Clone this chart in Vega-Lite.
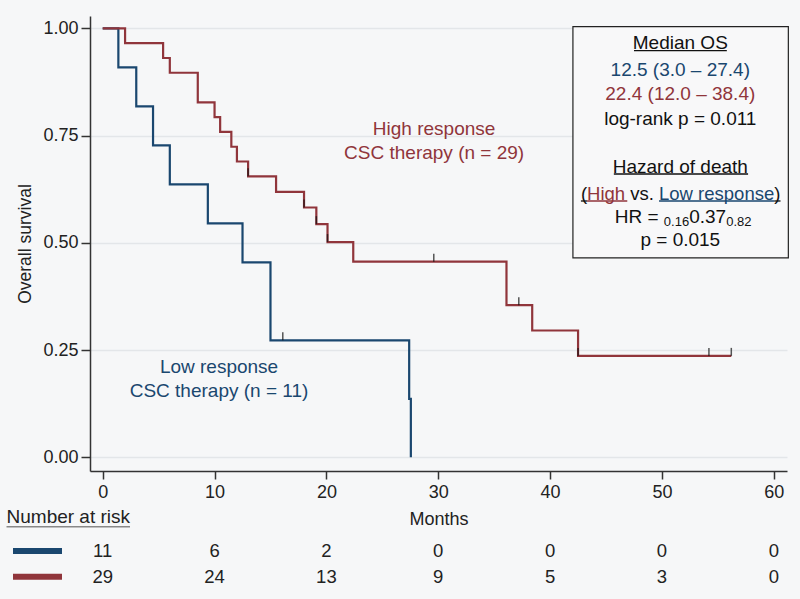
{
  "$schema": "https://vega.github.io/schema/vega-lite/v6.json",
  "width": 697,
  "height": 455,
  "autosize": {"type": "none"},
  "padding": {"left": 90, "top": 16, "right": 13, "bottom": 128},
  "background": "#f6f7f8",
  "config": {
    "font": "Liberation Sans",
    "view": {"stroke": null},
    "text": {"font": "Liberation Sans"}
  },
  "data": {"values": [{"note": "annotation"}]},
  "datasets": {
    "curves": [
      {"group": "Low", "t": 0, "s": 1},
      {"group": "Low", "t": 1.4, "s": 0.9091},
      {"group": "Low", "t": 3.0, "s": 0.8182},
      {"group": "Low", "t": 4.5, "s": 0.7273},
      {"group": "Low", "t": 6.0, "s": 0.6364},
      {"group": "Low", "t": 9.4, "s": 0.5455},
      {"group": "Low", "t": 12.5, "s": 0.4545},
      {"group": "Low", "t": 15.0, "s": 0.2727},
      {"group": "Low", "t": 27.4, "s": 0.1364},
      {"group": "Low", "t": 27.55, "s": 0},
      {"group": "High", "t": 0, "s": 1},
      {"group": "High", "t": 2.0, "s": 0.9655},
      {"group": "High", "t": 5.4, "s": 0.9310},
      {"group": "High", "t": 6.0, "s": 0.8966},
      {"group": "High", "t": 8.5, "s": 0.8276},
      {"group": "High", "t": 10.0, "s": 0.7931},
      {"group": "High", "t": 10.5, "s": 0.7586},
      {"group": "High", "t": 11.5, "s": 0.7241},
      {"group": "High", "t": 12.0, "s": 0.6897},
      {"group": "High", "t": 13.0, "s": 0.6552},
      {"group": "High", "t": 15.5, "s": 0.6188},
      {"group": "High", "t": 18.0, "s": 0.5824},
      {"group": "High", "t": 19.1, "s": 0.5436},
      {"group": "High", "t": 20.1, "s": 0.5018},
      {"group": "High", "t": 22.4, "s": 0.4562},
      {"group": "High", "t": 36.1, "s": 0.3548},
      {"group": "High", "t": 38.4, "s": 0.2957},
      {"group": "High", "t": 42.5, "s": 0.2365},
      {"group": "High", "t": 56.2, "s": 0.2365}
    ],
    "censor": [
      {"group": "Low", "t": 16.1, "s": 0.2727},
      {"group": "High", "t": 13.0, "s": 0.6552},
      {"group": "High", "t": 18.0, "s": 0.5824},
      {"group": "High", "t": 19.1, "s": 0.5436},
      {"group": "High", "t": 20.1, "s": 0.5018},
      {"group": "High", "t": 29.6, "s": 0.4562},
      {"group": "High", "t": 37.2, "s": 0.3548},
      {"group": "High", "t": 42.5, "s": 0.2365},
      {"group": "High", "t": 54.2, "s": 0.2365},
      {"group": "High", "t": 56.2, "s": 0.2365}
    ],
    "risk": [
      {"group": "Low", "t": 0, "n": 11},
      {"group": "Low", "t": 10, "n": 6},
      {"group": "Low", "t": 20, "n": 2},
      {"group": "Low", "t": 30, "n": 0},
      {"group": "Low", "t": 40, "n": 0},
      {"group": "Low", "t": 50, "n": 0},
      {"group": "Low", "t": 60, "n": 0},
      {"group": "High", "t": 0, "n": 29},
      {"group": "High", "t": 10, "n": 24},
      {"group": "High", "t": 20, "n": 13},
      {"group": "High", "t": 30, "n": 9},
      {"group": "High", "t": 40, "n": 5},
      {"group": "High", "t": 50, "n": 3},
      {"group": "High", "t": 60, "n": 0}
    ]
  },
  "layer": [
    {
      "mark": {"type": "rect", "fill": "#f8f8f9", "stroke": "#222222", "strokeWidth": 1.2},
      "encoding": {
        "x": {"datum": 42.04, "type": "quantitative"},
        "x2": {"datum": 61.3},
        "y": {"datum": 1.004, "type": "quantitative"},
        "y2": {"datum": 0.465}
      }
    },
    {
      "data": {"name": "curves"},
      "transform": [{"filter": "datum.group === 'Low'"}],
      "mark": {"type": "line", "interpolate": "step-after", "color": "#1a476f", "strokeWidth": 2.2},
      "encoding": {
        "x": {
          "field": "t", "type": "quantitative",
          "scale": {"domain": [-1.136, 61.18], "nice": false, "zero": false},
          "axis": {
            "title": "Months", "values": [0, 10, 20, 30, 40, 50, 60], "grid": false,
            "tickSize": 8, "labelPadding": 4, "labelFontSize": 18, "titleFontSize": 18,
            "titleFontWeight": "normal", "titlePadding": 9, "domainColor": "#333333",
            "tickColor": "#333333", "labelColor": "#222222", "titleColor": "#222222",
            "domainWidth": 1.5, "tickWidth": 1.5, "labelFlush": false
          }
        },
        "y": {
          "field": "s", "type": "quantitative",
          "scale": {"domain": [-0.0319, 1.0289], "nice": false, "zero": false},
          "axis": {
            "title": "Overall survival", "values": [0, 0.25, 0.5, 0.75, 1], "format": ".2f",
            "grid": true, "gridColor": "#e3e6e9", "gridWidth": 1.5,
            "tickSize": 9, "labelPadding": 3, "labelFontSize": 18, "titleFontSize": 17.5,
            "titleFontWeight": "normal", "titlePadding": 8, "domainColor": "#333333",
            "tickColor": "#333333", "labelColor": "#222222", "titleColor": "#222222",
            "domainWidth": 1.5, "tickWidth": 1.5, "labelFlush": false
          }
        }
      }
    },
    {
      "data": {"name": "curves"},
      "transform": [{"filter": "datum.group === 'High'"}],
      "mark": {"type": "line", "interpolate": "step-after", "color": "#90353b", "strokeWidth": 2.2},
      "encoding": {
        "x": {"field": "t", "type": "quantitative"},
        "y": {"field": "s", "type": "quantitative"}
      }
    },
    {
      "data": {"name": "censor"},
      "mark": {"type": "tick", "orient": "vertical", "size": 8, "thickness": 1.5, "color": "#111111", "yOffset": -4},
      "encoding": {
        "x": {"field": "t", "type": "quantitative"},
        "y": {"field": "s", "type": "quantitative"}
      }
    },
    {
      "data": {"name": "risk"},
      "transform": [{"filter": "datum.group === 'Low'"}],
      "mark": {"type": "text", "fontSize": 18.5, "color": "#222222", "align": "center", "baseline": "middle"},
      "encoding": {
        "x": {"field": "t", "type": "quantitative"},
        "y": {"datum": -0.2185, "type": "quantitative"},
        "text": {"field": "n", "type": "nominal"}
      }
    },
    {
      "data": {"name": "risk"},
      "transform": [{"filter": "datum.group === 'High'"}],
      "mark": {"type": "text", "fontSize": 18.5, "color": "#222222", "align": "center", "baseline": "middle"},
      "encoding": {
        "x": {"field": "t", "type": "quantitative"},
        "y": {"datum": -0.2784, "type": "quantitative"},
        "text": {"field": "n", "type": "nominal"}
      }
    },
    {
      "mark": {"type": "rule", "color": "#1a476f", "strokeWidth": 6},
      "encoding": {"x": {"datum": -8.02, "type": "quantitative"}, "x2": {"datum": -3.64}, "y": {"datum": -0.2185, "type": "quantitative"}}
    },
    {
      "mark": {"type": "rule", "color": "#90353b", "strokeWidth": 6},
      "encoding": {"x": {"datum": -8.02, "type": "quantitative"}, "x2": {"datum": -3.64}, "y": {"datum": -0.2784, "type": "quantitative"}}
    },
    {
      "mark": {"type": "text", "text": "Number at risk", "fontSize": 19, "color": "#222222", "align": "left", "baseline": "middle"},
      "encoding": {"x": {"datum": -8.6, "type": "quantitative"}, "y": {"datum": -0.1385, "type": "quantitative"}}
    },
    {
      "mark": {"type": "rule", "color": "#888888", "strokeWidth": 1.5},
      "encoding": {"x": {"datum": -8.6, "type": "quantitative"}, "x2": {"datum": 2.44}, "y": {"datum": -0.162, "type": "quantitative"}}
    },
    {
      "mark": {"type": "text", "text": "High response", "fontSize": 19, "color": "#90353b", "align": "center", "baseline": "middle"},
      "encoding": {"x": {"datum": 29.63, "type": "quantitative"}, "y": {"datum": 0.7643, "type": "quantitative"}}
    },
    {
      "mark": {"type": "text", "text": "CSC therapy (n = 29)", "fontSize": 19, "color": "#90353b", "align": "center", "baseline": "middle"},
      "encoding": {"x": {"datum": 29.63, "type": "quantitative"}, "y": {"datum": 0.7095, "type": "quantitative"}}
    },
    {
      "mark": {"type": "text", "text": "Low response", "fontSize": 19, "color": "#1a476f", "align": "center", "baseline": "middle"},
      "encoding": {"x": {"datum": 10.4, "type": "quantitative"}, "y": {"datum": 0.2098, "type": "quantitative"}}
    },
    {
      "mark": {"type": "text", "text": "CSC therapy (n = 11)", "fontSize": 19, "color": "#1a476f", "align": "center", "baseline": "middle"},
      "encoding": {"x": {"datum": 10.4, "type": "quantitative"}, "y": {"datum": 0.1553, "type": "quantitative"}}
    },
    {
      "mark": {"type": "text", "text": "Median OS", "fontSize": 19, "color": "#111111", "align": "center", "baseline": "middle"},
      "encoding": {"x": {"datum": 51.64, "type": "quantitative"}, "y": {"datum": 0.9653, "type": "quantitative"}}
    },
    {
      "mark": {"type": "rule", "color": "#111111", "strokeWidth": 1.3},
      "encoding": {"x": {"datum": 47.5, "type": "quantitative"}, "x2": {"datum": 55.8}, "y": {"datum": 0.948, "type": "quantitative"}}
    },
    {
      "mark": {"type": "text", "text": "12.5 (3.0 – 27.4)", "fontSize": 19, "color": "#1a476f", "align": "center", "baseline": "middle"},
      "encoding": {"x": {"datum": 51.64, "type": "quantitative"}, "y": {"datum": 0.9030, "type": "quantitative"}}
    },
    {
      "mark": {"type": "text", "text": "22.4 (12.0 – 38.4)", "fontSize": 19, "color": "#90353b", "align": "center", "baseline": "middle"},
      "encoding": {"x": {"datum": 51.64, "type": "quantitative"}, "y": {"datum": 0.8470, "type": "quantitative"}}
    },
    {
      "mark": {"type": "text", "text": "log-rank p = 0.011", "fontSize": 19, "color": "#111111", "align": "center", "baseline": "middle"},
      "encoding": {"x": {"datum": 51.64, "type": "quantitative"}, "y": {"datum": 0.7881, "type": "quantitative"}}
    },
    {
      "mark": {"type": "text", "text": "Hazard of death", "fontSize": 19, "color": "#111111", "align": "center", "baseline": "middle"},
      "encoding": {"x": {"datum": 51.64, "type": "quantitative"}, "y": {"datum": 0.6776, "type": "quantitative"}}
    },
    {
      "mark": {"type": "rule", "color": "#111111", "strokeWidth": 1.3},
      "encoding": {"x": {"datum": 45.7, "type": "quantitative"}, "x2": {"datum": 57.7}, "y": {"datum": 0.6605, "type": "quantitative"}}
    },
    {
      "mark": {"type": "text", "text": "(", "fontSize": 18.5, "color": "#111111", "align": "left", "baseline": "middle"},
      "encoding": {"x": {"datum": 42.755, "type": "quantitative"}, "y": {"datum": 0.6139, "type": "quantitative"}}
    },
    {
      "mark": {"type": "text", "text": "High", "fontSize": 18.5, "color": "#90353b", "align": "left", "baseline": "middle"},
      "encoding": {"x": {"datum": 43.306, "type": "quantitative"}, "y": {"datum": 0.6139, "type": "quantitative"}}
    },
    {
      "mark": {"type": "text", "text": "vs.", "fontSize": 18.5, "color": "#111111", "align": "left", "baseline": "middle"},
      "encoding": {"x": {"datum": 47.16, "type": "quantitative"}, "y": {"datum": 0.6139, "type": "quantitative"}}
    },
    {
      "mark": {"type": "text", "text": "Low response", "fontSize": 18.5, "color": "#1a476f", "align": "left", "baseline": "middle"},
      "encoding": {"x": {"datum": 49.74, "type": "quantitative"}, "y": {"datum": 0.6139, "type": "quantitative"}}
    },
    {
      "mark": {"type": "text", "text": ")", "fontSize": 18.5, "color": "#111111", "align": "left", "baseline": "middle"},
      "encoding": {"x": {"datum": 60.04, "type": "quantitative"}, "y": {"datum": 0.6139, "type": "quantitative"}}
    },
    {
      "mark": {"type": "rule", "color": "#111111", "strokeWidth": 1.3},
      "encoding": {"x": {"datum": 42.755, "type": "quantitative"}, "x2": {"datum": 43.306}, "y": {"datum": 0.5976, "type": "quantitative"}}
    },
    {
      "mark": {"type": "rule", "color": "#90353b", "strokeWidth": 1.3},
      "encoding": {"x": {"datum": 43.306, "type": "quantitative"}, "x2": {"datum": 46.9}, "y": {"datum": 0.5976, "type": "quantitative"}}
    },
    {
      "mark": {"type": "rule", "color": "#1a476f", "strokeWidth": 1.3},
      "encoding": {"x": {"datum": 49.74, "type": "quantitative"}, "x2": {"datum": 60.04}, "y": {"datum": 0.5976, "type": "quantitative"}}
    },
    {
      "mark": {"type": "rule", "color": "#111111", "strokeWidth": 1.3},
      "encoding": {"x": {"datum": 60.04, "type": "quantitative"}, "x2": {"datum": 60.6}, "y": {"datum": 0.5976, "type": "quantitative"}}
    },
    {
      "mark": {"type": "text", "text": "HR =", "fontSize": 19, "color": "#111111", "align": "left", "baseline": "middle"},
      "encoding": {"x": {"datum": 45.78, "type": "quantitative"}, "y": {"datum": 0.5610, "type": "quantitative"}}
    },
    {
      "mark": {"type": "text", "text": "0.16", "fontSize": 13, "color": "#111111", "align": "left", "baseline": "middle"},
      "encoding": {"x": {"datum": 50.17, "type": "quantitative"}, "y": {"datum": 0.5493, "type": "quantitative"}}
    },
    {
      "mark": {"type": "text", "text": "0.37", "fontSize": 19, "color": "#111111", "align": "left", "baseline": "middle"},
      "encoding": {"x": {"datum": 52.43, "type": "quantitative"}, "y": {"datum": 0.5610, "type": "quantitative"}}
    },
    {
      "mark": {"type": "text", "text": "0.82", "fontSize": 13, "color": "#111111", "align": "left", "baseline": "middle"},
      "encoding": {"x": {"datum": 55.74, "type": "quantitative"}, "y": {"datum": 0.5493, "type": "quantitative"}}
    },
    {
      "mark": {"type": "text", "text": "p = 0.015", "fontSize": 19, "color": "#111111", "align": "center", "baseline": "middle"},
      "encoding": {"x": {"datum": 51.64, "type": "quantitative"}, "y": {"datum": 0.5066, "type": "quantitative"}}
    }
  ]
}
